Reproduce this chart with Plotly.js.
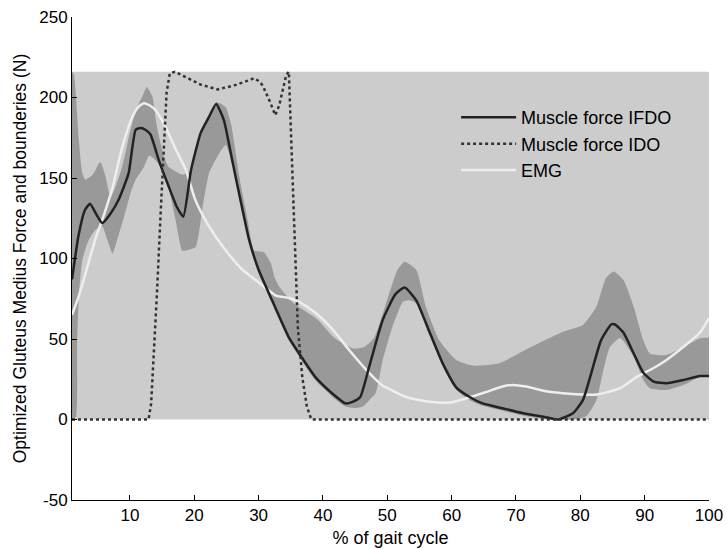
<!DOCTYPE html>
<html>
<head>
<meta charset="utf-8">
<script src="https://cdn.plot.ly/plotly-3.0.1.min.js"></script>
<style>html,body{margin:0;padding:0;background:#fff;}#chart{width:727px;height:549px;}</style>
</head>
<body>
<div id="chart"></div>
<script>
// Upper bound of the feasible force region (N)
const boundMax = 216;
const boundX = [1, 100];

// Muscle force IFDO
const ifdoX = [1, 2, 3, 3.8, 4.7, 5.7, 7, 8.3, 9.8, 10.9, 11.7, 12.4, 13.2, 14.5, 16, 17.3, 18.3, 19.5, 21, 22.3, 23.4, 24.6, 25.9, 27.2, 28.5, 30, 32.1, 34.7, 36.3, 38.9, 41.5, 43.5, 44.6, 45.8, 47.2, 49.3, 51.3, 52.7, 54.5, 56.6, 58.6, 60.7, 62.8, 64.8, 67.9, 71, 75.2, 76.5, 78.9, 80.4, 82, 83.2, 84.8, 85.4, 86.7, 88.3, 89.8, 91.4, 93.4, 96, 98.6, 100];
const ifdoY = [87, 114, 130, 134, 128, 122, 128, 137, 153, 180, 181, 180, 177, 161, 145, 132, 126, 155, 178, 188, 196, 186, 161, 136, 112, 93, 74, 51, 41, 26, 16, 10, 11, 14, 33, 62, 78, 82, 74, 54, 35, 20, 14, 10, 7, 4, 1, 0, 4, 12, 33, 49, 59, 59, 54, 41, 29, 23.5, 22.5, 24.5, 27, 27];

// Muscle force IDO
const idoX = [1, 12.9, 13.3, 13.7, 14.2, 14.8, 15.3, 15.7, 16.2, 17, 19, 21, 23.6, 26.2, 28, 29.3, 30.3, 30.8, 31.8, 32.6, 33.2, 33.7, 34.3, 34.7, 35, 35.6, 36.1, 36.8, 37.5, 38.2, 100];
const idoY = [0, 0, 10, 37, 78, 130, 172, 203, 215, 216, 212, 208, 205, 207.5, 210, 212, 209.5, 206, 197, 189, 195, 203, 214, 216, 181, 120, 57, 26, 8, 0, 0];

// EMG
const emgX = [1, 2, 2.9, 4.7, 5.7, 7.3, 8.8, 10.4, 11.3, 12.2, 13.1, 14, 15.5, 17.1, 18.7, 20.2, 22.3, 24.9, 27.5, 30.1, 32.7, 34.7, 36.3, 38.9, 41.5, 44.1, 46.7, 49.3, 50.3, 52.9, 56.6, 59.7, 62.2, 65.3, 67.9, 69.5, 71.6, 74.7, 78.3, 82.5, 86.2, 88.8, 91.4, 93.4, 96, 98.6, 100];
const emgY = [65, 76, 88, 113, 124, 144, 169, 188, 194, 196.5, 195, 192, 182, 168, 155, 136, 120, 105, 93, 85, 77, 75.5, 73, 66, 56, 43, 31, 21, 19, 14, 11, 10.5, 13, 17, 20.5, 21.5, 20.5, 17.5, 16, 15.5, 19.5, 26.5, 32, 37, 45, 54, 63];

// IFDO bounds (upper and lower)
const upX = [1, 1.3, 2.1, 2.6, 3.1, 4.2, 5.4, 6.2, 7, 7.8, 8.8, 10.1, 10.9, 12.2, 12.6, 13.5, 14.2, 15.3, 16, 17.6, 18.3, 19.3, 20, 21, 22.3, 23.4, 24.2, 24.9, 25.7, 26.2, 27, 28.3, 29.3, 30.8, 31.9, 32.5, 33.2, 35.5, 39.2, 41.7, 44.8, 46.4, 48, 49.8, 51.6, 52.7, 54.5, 56, 58.1, 60.7, 63.3, 67.4, 72.1, 77.3, 80.4, 82.5, 84, 85.2, 86.7, 88.3, 89.8, 90.8, 93.4, 96, 98.6, 100];
const upY = [216, 214, 172, 153, 149, 152, 160, 151, 138, 145, 157, 180, 192, 203, 206.5, 200.5, 182, 163, 157, 153, 152, 154, 166, 178, 188, 197, 196, 194, 184, 172, 151, 124, 105, 104, 97, 88, 82.5, 72, 62, 51, 44, 45, 51, 72, 93, 98, 93, 70, 49, 37, 33.5, 35, 44.5, 54.5, 58.7, 70, 88, 92, 86.6, 70, 49, 41, 40, 45, 50.5, 51];
const loX = [1, 1.6, 1.8, 2.1, 2.6, 3.6, 4.7, 5.7, 6.5, 7.3, 8, 9.1, 10.1, 10.9, 12.2, 13, 14, 15, 16, 17.1, 18.1, 18.7, 20.2, 21.3, 22.3, 23.9, 24.9, 25.9, 27.2, 28.5, 30, 32.1, 34.7, 36.3, 38.9, 41.5, 43.5, 45, 46.2, 47.2, 48.2, 49.3, 50.8, 51.4, 52.4, 53.5, 54.5, 56.6, 58.6, 60.7, 62.8, 64.8, 67.9, 71, 75.2, 76.5, 78.9, 80.9, 82.5, 83.5, 84.6, 86.2, 88.3, 89.8, 90.8, 93.4, 96, 98.6, 100];
const loY = [0, 1.5, 47, 78.5, 99, 111.5, 118, 120, 111.5, 103, 111.5, 126, 140.5, 149, 157, 164, 161, 155, 144.6, 124, 105, 105, 107, 132, 153, 165.5, 170.5, 159, 134, 110, 91, 72, 49, 39, 24, 14, 8, 7, 8, 12, 16.4, 37, 57.6, 64, 73, 74, 72, 52, 33, 18.5, 12, 8.5, 5.5, 2.5, 0, 0, 0, 2, 12, 29, 45, 50.6, 39, 24.5, 19.4, 18.3, 21.4, 26.6, 27];

const xTicks = [10, 20, 30, 40, 50, 60, 70, 80, 90, 100];
const yTicks = [-50, 0, 50, 100, 150, 200, 250];

const FONT = 'Arial, "Liberation Sans", sans-serif';

const traces = [
  {x: boundX, y: boundX.map(() => boundMax), type: 'scatter', mode: 'lines', fill: 'tozeroy',
   fillcolor: '#cccccc', line: {width: 0, color: '#cccccc'}, showlegend: false, hoverinfo: 'skip'},
  {x: loX, y: loY, type: 'scatter', mode: 'lines', line: {width: 0, color: '#999999', shape: 'spline', smoothing: 0.5},
   showlegend: false, hoverinfo: 'skip'},
  {x: upX, y: upY, type: 'scatter', mode: 'lines', fill: 'tonexty', fillcolor: '#999999',
   line: {width: 0, color: '#999999', shape: 'spline', smoothing: 0.5}, showlegend: false, hoverinfo: 'skip'},
  {x: emgX, y: emgY, type: 'scatter', mode: 'lines', name: 'EMG', legendrank: 3,
   line: {color: '#eeeeee', width: 2.5, shape: 'spline', smoothing: 0.6}},
  {x: ifdoX, y: ifdoY, type: 'scatter', mode: 'lines', name: 'Muscle force IFDO', legendrank: 1,
   line: {color: '#222222', width: 2.5, shape: 'spline', smoothing: 0.5}},
  {x: idoX, y: idoY, type: 'scatter', mode: 'lines', name: 'Muscle force IDO', legendrank: 2,
   line: {color: '#333333', width: 2.5, dash: 'dot'}}
];

const layout = {
  width: 727, height: 549,
  margin: {l: 72, r: 18, t: 17, b: 49},
  paper_bgcolor: '#ffffff', plot_bgcolor: '#ffffff',
  font: {family: FONT, size: 17, color: '#000'},
  showlegend: true,
  legend: {x: 0.603, y: 0.83, xanchor: 'left', yanchor: 'top', bgcolor: 'rgba(0,0,0,0)', traceorder: 'normal',
           font: {family: FONT, size: 18, color: '#000'}, itemwidth: 55, tracegroupgap: 0},
  xaxis: {range: [1, 100], tickvals: xTicks, ticktext: xTicks.map(String), ticks: 'inside', ticklen: 5,
          tickcolor: '#000', showline: true, linecolor: '#000', linewidth: 1, showgrid: false, zeroline: false,
          title: {text: '% of gait cycle', font: {family: FONT, size: 18}, standoff: 6}, automargin: false},
  yaxis: {range: [-50, 250], tickvals: yTicks, ticktext: yTicks.map(String), ticks: 'inside', ticklen: 5,
          tickcolor: '#000', showline: true, linecolor: '#000', linewidth: 1, showgrid: false, zeroline: false,
          title: {text: 'Optimized Gluteus Medius Force and bounderies (N)', font: {family: FONT, size: 17.5}, standoff: 8},
          automargin: false}
};

Plotly.newPlot('chart', traces, layout, {displayModeBar: false, staticPlot: true});
</script>
</body>
</html>
